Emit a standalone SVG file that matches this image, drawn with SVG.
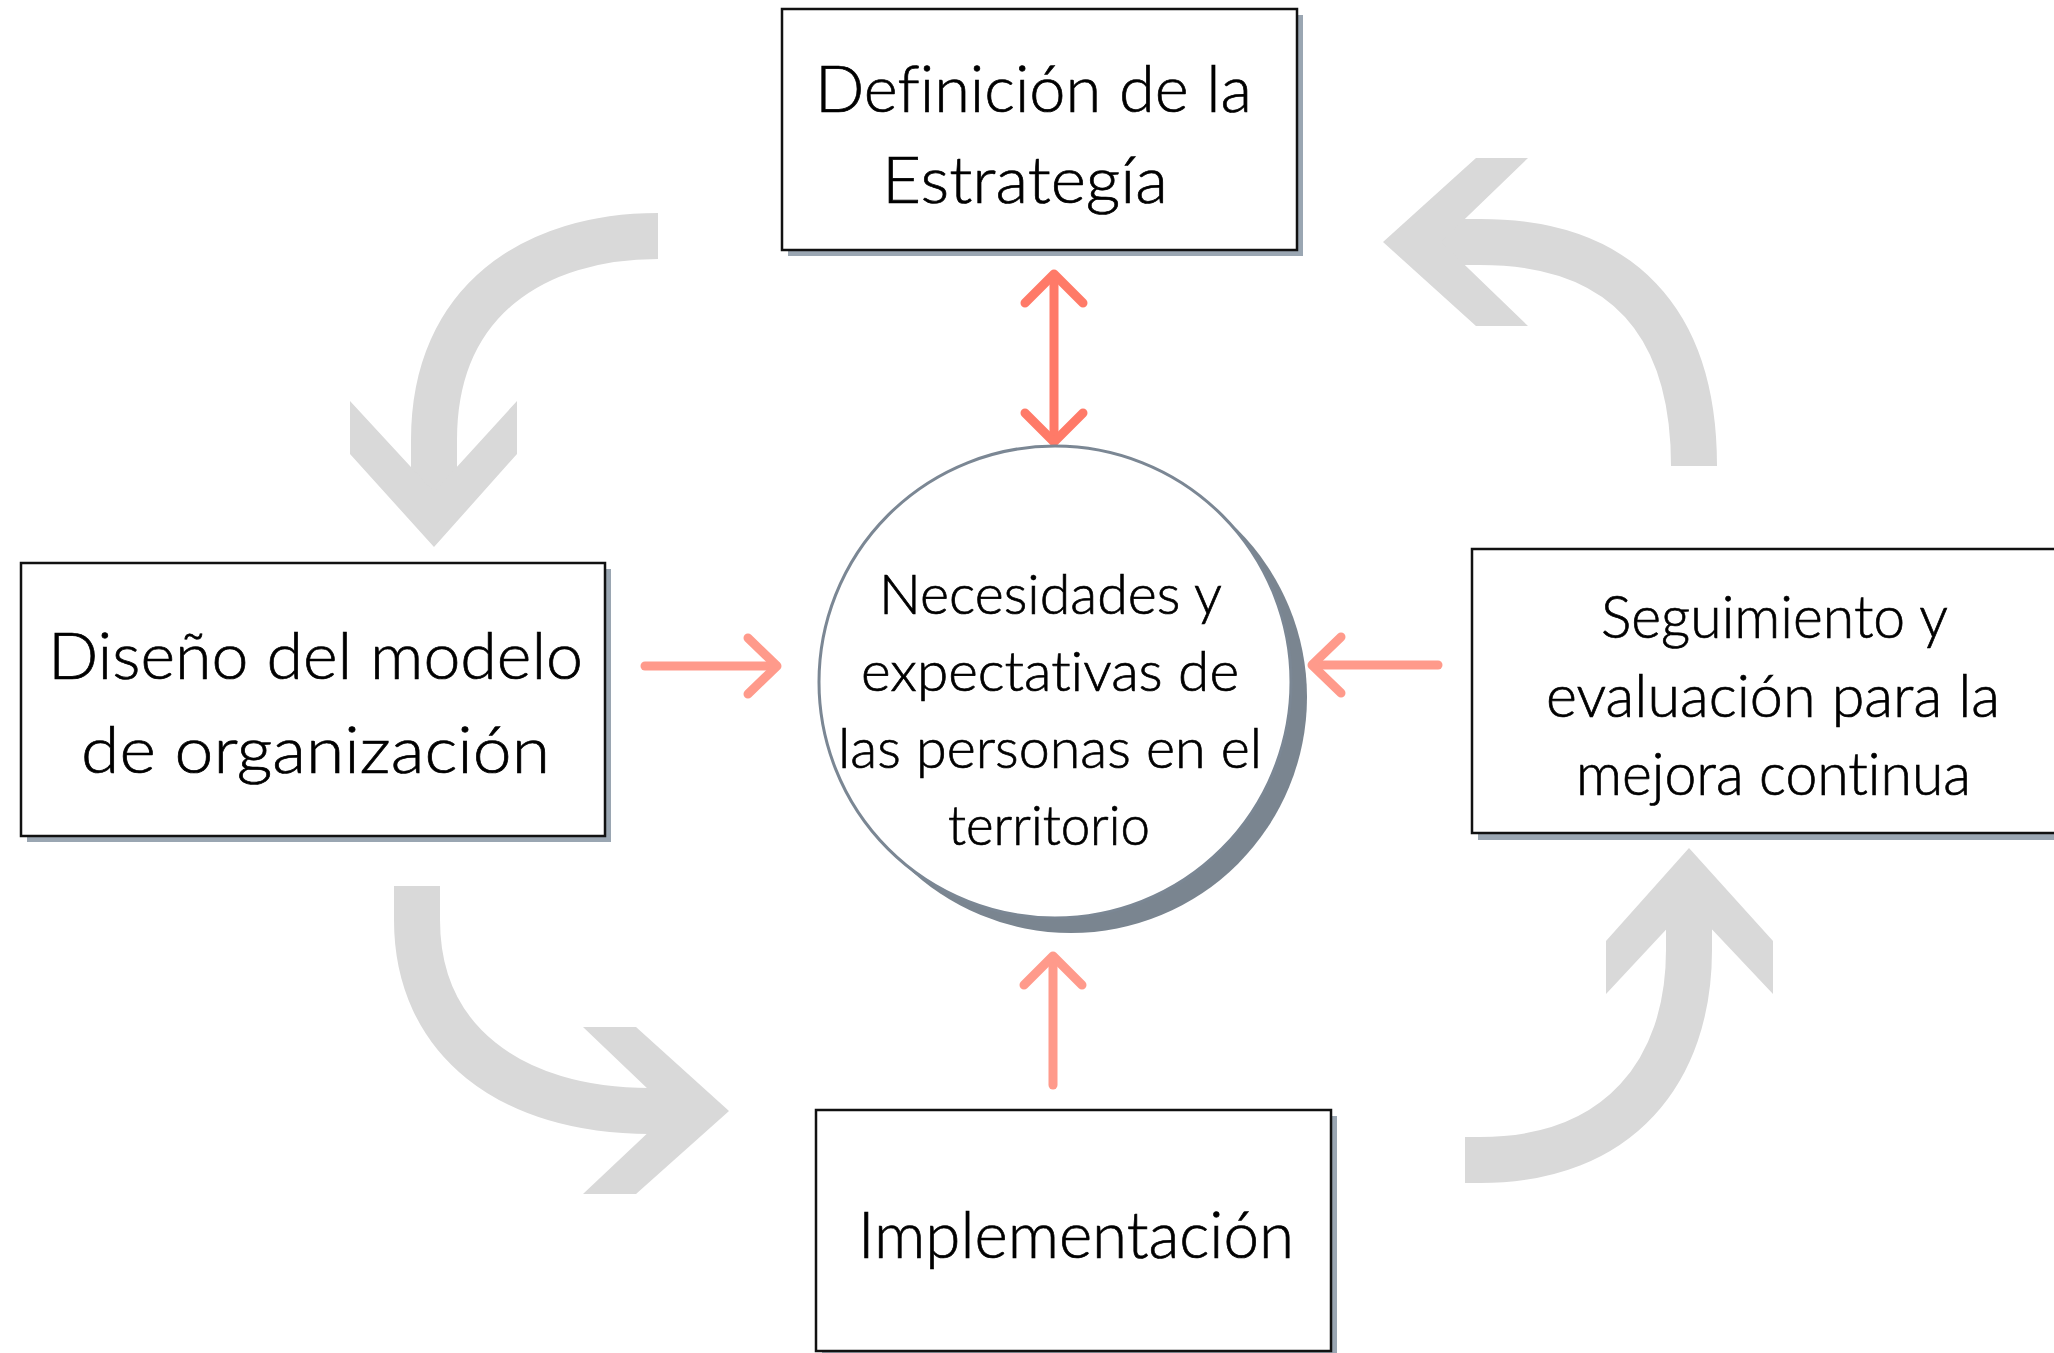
<svg xmlns="http://www.w3.org/2000/svg" width="2054" height="1353" viewBox="0 0 2054 1353">
<style>
.shadow{fill:#9aa6b2}
.box{fill:#ffffff;stroke:#111111;stroke-width:2.5}
.t{font-family:Lato,"Noto Sans","Liberation Sans",sans-serif;font-weight:300;fill:#000000;stroke:#000000;stroke-width:0.7;font-variant-ligatures:none;font-feature-settings:"liga" 0,"dlig" 0}
.big{font-size:66px}
.mid{font-size:60px}
.sm{font-size:56px}
.gshaft{fill:none;stroke:#d9d9d9;stroke-width:46;stroke-linecap:butt}
.ghead{fill:#d9d9d9}
.red{fill:none;stroke:#ff9a8b;stroke-width:9;stroke-linecap:round;stroke-linejoin:round}
.red2{fill:none;stroke:#ff7a68;stroke-width:9;stroke-linecap:round;stroke-linejoin:round}
</style>
<rect width="2054" height="1353" fill="#ffffff"/>

<g id="cycle-arrows">
  <path class="gshaft" d="M658,236 C535,236 434,300 434,440 L434,500"/>
  <polygon class="ghead" points="350,401 434,492 517,401 517,454 434,547 350,454"/>
  <path class="gshaft" d="M1430,242 L1480,242 C1620,242 1694,320 1694,466"/>
  <polygon class="ghead" points="1383,242 1476,158 1528,158 1441,242 1528,326 1476,326"/>
  <path class="gshaft" d="M417,886 L417,920 C417,1040 510,1111 650,1111 L680,1111"/>
  <polygon class="ghead" points="729,1111 636,1027 583,1027 671,1111 583,1194 636,1194"/>
  <path class="gshaft" d="M1465,1160 L1480,1160 C1620,1160 1689,1070 1689,950 L1689,898"/>
  <polygon class="ghead" points="1689,848 1773,941 1773,994 1689,905 1606,994 1606,941"/>
</g>

<g id="connectors">
  <line class="red2" x1="1054" y1="278" x2="1054" y2="439"/>
  <polyline class="red2" points="1025,303 1054,274 1083,303"/>
  <polyline class="red2" points="1025,413 1054,442 1083,413"/>
  <line class="red" x1="645" y1="666" x2="776" y2="666"/>
  <polyline class="red" points="748,638 777,666 748,694"/>
  <line class="red" x1="1438" y1="665" x2="1313" y2="665"/>
  <polyline class="red" points="1341,637 1312,665 1341,693"/>
  <line class="red" x1="1053" y1="1085" x2="1053" y2="958"/>
  <polyline class="red" points="1024,985 1053,956 1082,985"/>
</g>

<g id="node-estrategia">
  <rect class="shadow" x="788" y="15" width="515" height="241"/>
  <rect class="box" x="782" y="9" width="515" height="241"/>
  <text class="t big" x="815" y="112" textLength="437" lengthAdjust="spacingAndGlyphs">Definición de la</text>
  <text class="t big" x="882" y="203" textLength="286" lengthAdjust="spacingAndGlyphs">Estrategía</text>
</g>

<g id="node-diseno">
  <rect class="shadow" x="27" y="569" width="584" height="273"/>
  <rect class="box" x="21" y="563" width="584" height="273"/>
  <text class="t big" x="48" y="679" textLength="535" lengthAdjust="spacingAndGlyphs">Diseño del modelo</text>
  <text class="t big" x="81" y="773" textLength="469" lengthAdjust="spacingAndGlyphs">de organización</text>
</g>

<g id="node-seguimiento">
  <rect class="shadow" x="1478" y="555" width="600" height="285"/>
  <rect class="box" x="1472" y="549" width="600" height="284"/>
  <text class="t mid" x="1601" y="638" textLength="347" lengthAdjust="spacingAndGlyphs">Seguimiento y</text>
  <text class="t mid" x="1546" y="717" textLength="454" lengthAdjust="spacingAndGlyphs">evaluación para la</text>
  <text class="t mid" x="1576" y="795" textLength="395" lengthAdjust="spacingAndGlyphs">mejora continua</text>
</g>

<g id="node-implementacion">
  <rect class="shadow" x="822" y="1116" width="515" height="241"/>
  <rect class="box" x="816" y="1110" width="515" height="241"/>
  <text class="t big" x="858" y="1258" textLength="436" lengthAdjust="spacingAndGlyphs">Implementación</text>
</g>

<g id="node-necesidades">
  <circle cx="1071" cy="697" r="236" fill="#7a8590"/>
  <circle cx="1055" cy="682" r="236" fill="#ffffff" stroke="#7b8794" stroke-width="3"/>
  <text class="t sm" x="879" y="614" textLength="343" lengthAdjust="spacingAndGlyphs">Necesidades y</text>
  <text class="t sm" x="861" y="691" textLength="378" lengthAdjust="spacingAndGlyphs">expectativas de</text>
  <text class="t sm" x="838" y="768" textLength="424" lengthAdjust="spacingAndGlyphs">las personas en el</text>
  <text class="t sm" x="948" y="845" textLength="202" lengthAdjust="spacingAndGlyphs">territorio</text>
</g>
</svg>
